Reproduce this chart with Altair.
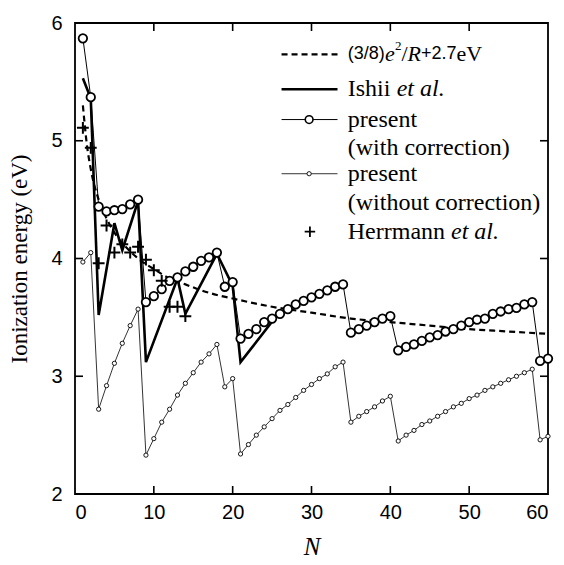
import altair as alt
import pandas as pd

# ---------------- data ----------------
N = list(range(1, 61))
with_corr = [5.87, 5.37, 4.44, 4.40, 4.41, 4.42, 4.46, 4.50,
             3.63, 3.68, 3.74, 3.81, 3.84, 3.89, 3.93, 3.98, 4.01, 4.05,
             3.76, 3.80,
             3.32, 3.36, 3.40, 3.46, 3.49, 3.53, 3.57, 3.61, 3.64, 3.67, 3.70, 3.73, 3.76, 3.78,
             3.37, 3.40, 3.43, 3.46, 3.49, 3.51,
             3.22, 3.25, 3.27, 3.30, 3.33, 3.35, 3.38, 3.40, 3.43, 3.46, 3.48, 3.49,
             3.53, 3.55, 3.57, 3.58, 3.61, 3.63,
             3.13, 3.15]
without_corr = [3.97, 4.05, 2.72, 2.92, 3.11, 3.28, 3.43, 3.57,
                2.33, 2.47, 2.61, 2.72, 2.84, 2.94, 3.03, 3.12, 3.19, 3.27,
                2.91, 2.98,
                2.34, 2.42, 2.50, 2.57, 2.64, 2.71, 2.76, 2.82, 2.88, 2.93, 2.98, 3.02, 3.08, 3.12,
                2.61, 2.66, 2.70, 2.74, 2.79, 2.83,
                2.45, 2.50, 2.54, 2.59, 2.62, 2.66, 2.70, 2.74, 2.77, 2.81, 2.84, 2.88,
                2.91, 2.94, 2.97, 3.00, 3.03, 3.06,
                2.46, 2.49]
ishii_N = [1, 2, 3, 5, 6, 8, 9, 13, 14, 18, 20, 21, 26]
ishii_E = [5.53, 5.36, 3.52, 4.30, 4.07, 4.49, 3.12, 3.83, 3.53, 4.04, 3.77, 3.12, 3.55]
herr_N = [1, 2, 3, 4, 5, 6, 7, 8, 9, 10, 11, 12, 13, 14]
herr_E = [5.11, 4.94, 3.96, 4.28, 4.05, 4.12, 4.05, 4.10, 3.99, 3.90, 3.81, 3.59, 3.59, 3.51]
fit_N = [1, 1.5, 2, 3, 4, 5, 6, 7, 8, 10, 12, 14, 16, 18, 20, 25, 30, 35, 40, 45, 50, 55, 60]
fit_E = [5.30, 4.97, 4.76, 4.50, 4.34, 4.22, 4.13, 4.06, 4.00, 3.91, 3.83, 3.78, 3.73,
         3.69, 3.66, 3.59, 3.54, 3.49, 3.46, 3.43, 3.40, 3.38, 3.36]
x_ticks = [0, 10, 20, 30, 40, 50, 60]
y_ticks = [2, 3, 4, 5, 6]

# ---------------- layout ----------------
W, H = 473, 471
SERIF = "Liberation Serif"
SANS = "Liberation Sans"
XMIN, XMAX, YMIN, YMAX = 0, 60, 2, 6

xs = alt.Scale(domain=[XMIN, XMAX], nice=False, zero=False)
ys = alt.Scale(domain=[YMIN, YMAX], nice=False, zero=False)
X = alt.X("N:Q", scale=xs,
          axis=alt.Axis(values=x_ticks, format="d", title="N", domain=False, ticks=False, grid=False,
                        labelFont=SANS, labelFontSize=20, labelPadding=8, labelColor="black",
                        titleFont=SERIF, titleFontStyle="italic", titleFontWeight="normal",
                        titleFontSize=25, titlePadding=12, titleColor="black"))
Y = alt.Y("E:Q", scale=ys,
          axis=alt.Axis(values=y_ticks, format="d", title="Ionization energy (eV)", domain=False,
                        ticks=False, grid=False, labelFont=SANS, labelFontSize=20, labelPadding=13,
                        labelColor="black", titleFont=SERIF, titleFontWeight="normal",
                        titleFontSize=23, titlePadding=19, titleColor="black"))

df_c = pd.DataFrame({"N": N, "E": with_corr})
df_u = pd.DataFrame({"N": N, "E": without_corr})
df_i = pd.DataFrame({"N": ishii_N, "E": ishii_E})
df_h = pd.DataFrame({"N": herr_N, "E": herr_E})
df_f = pd.DataFrame({"N": fit_N, "E": fit_E})

CROSS = "M-1,0H1M0,-1V1"

layers = []
# without correction
layers.append(alt.Chart(df_u).mark_line(color="black", strokeWidth=0.8).encode(x=X, y=Y))
layers.append(alt.Chart(df_u).mark_point(shape="circle", size=18, filled=True, fill="white",
                                         stroke="black", strokeWidth=0.9, opacity=1).encode(x=X, y=Y))
# fit curve
layers.append(alt.Chart(df_f).mark_line(color="black", strokeWidth=2.2, strokeDash=[6, 4],
                                        interpolate="monotone").encode(x=X, y=Y))
# Ishii
layers.append(alt.Chart(df_i).mark_line(color="black", strokeWidth=2.6).encode(x=X, y=Y))
# with correction
layers.append(alt.Chart(df_c).mark_line(color="black", strokeWidth=1).encode(x=X, y=Y))
layers.append(alt.Chart(df_c).mark_point(shape="circle", size=72, filled=True, fill="white",
                                         stroke="black", strokeWidth=1.8, opacity=1).encode(x=X, y=Y))
# Herrmann
layers.append(alt.Chart(df_h).mark_point(shape=CROSS, size=140, filled=False, stroke="black",
                                         strokeWidth=2, opacity=1).encode(x=X, y=Y))

# ---------------- inward ticks on all four sides ----------------
TY = 8 * (YMAX - YMIN) / H
TXL = 8 * (XMAX - XMIN) / W
vt = pd.DataFrame(
    [{"N": v, "E": YMIN, "E2": YMIN + TY} for v in x_ticks[1:-1]]
    + [{"N": v, "E": YMAX - TY, "E2": YMAX} for v in x_ticks[1:-1]])
ht = pd.DataFrame(
    [{"E": v, "N": XMIN, "N2": XMIN + TXL} for v in y_ticks[1:-1]]
    + [{"E": v, "N": XMAX - TXL, "N2": XMAX} for v in y_ticks[1:-1]])
layers.append(alt.Chart(vt).mark_rule(color="black", strokeWidth=1.6).encode(x=X, y=Y, y2="E2:Q"))
layers.append(alt.Chart(ht).mark_rule(color="black", strokeWidth=1.6).encode(y=Y, x=X, x2="N2:Q"))

# ---------------- legend (in data units) ----------------
LX0, LX1, LXM, TX = 26.2, 33.3, 29.7, 34.6
R1, R2, R3, R3b, R4, R4b, R5 = 5.733, 5.437, 5.18, 4.938, 4.72, 4.473, 4.228

leg_fit = pd.DataFrame({"N": [LX0, LX1], "E": [R1, R1]})
leg_ish = pd.DataFrame({"N": [LX0, LX1], "E": [R2, R2]})
leg_c = pd.DataFrame({"N": [LX0, LX1], "E": [R3, R3]})
leg_u = pd.DataFrame({"N": [LX0, LX1], "E": [R4, R4]})
layers.append(alt.Chart(leg_fit).mark_line(color="black", strokeWidth=2.2, strokeDash=[6, 4]).encode(x=X, y=Y))
layers.append(alt.Chart(leg_ish).mark_line(color="black", strokeWidth=2.6).encode(x=X, y=Y))
layers.append(alt.Chart(leg_c).mark_line(color="black", strokeWidth=1).encode(x=X, y=Y))
layers.append(alt.Chart(pd.DataFrame({"N": [LXM], "E": [R3]})).mark_point(
    shape="circle", size=60, filled=True, fill="white", stroke="black", strokeWidth=1.6, opacity=1).encode(x=X, y=Y))
layers.append(alt.Chart(leg_u).mark_line(color="black", strokeWidth=0.8).encode(x=X, y=Y))
layers.append(alt.Chart(pd.DataFrame({"N": [LXM], "E": [R4]})).mark_point(
    shape="circle", size=18, filled=True, fill="white", stroke="black", strokeWidth=0.9, opacity=1).encode(x=X, y=Y))
layers.append(alt.Chart(pd.DataFrame({"N": [29.8], "E": [R5]})).mark_point(
    shape=CROSS, size=110, filled=False, stroke="black", strokeWidth=1.8, opacity=1).encode(x=X, y=Y))

serif_txt = pd.DataFrame({
    "N": [TX, TX, TX, TX, TX, TX],
    "E": [R2, R3, R3b, R4, R4b, R5],
    "t": ["Ishii", "present", "(with correction)", "present", "(without correction)", "Herrmann"]})
ital_txt = pd.DataFrame({
    "N": [40.8, 47.7],
    "E": [R2, R5],
    "t": ["et al.", "et al."]})
# formula pieces: (3/8) e ² / R +2.7 eV
f_serif = pd.DataFrame({"N": [41.42, 48.40], "E": [R1, R1], "t": ["/", "eV"]})
f_ital = pd.DataFrame({"N": [39.33, 42.19], "E": [R1, R1], "t": ["e", "R"]})
f_sans = pd.DataFrame({"N": [TX, 43.89], "E": [R1, R1], "t": ["(3/8)", "+2.7"]})
f_sup = pd.DataFrame({"N": [40.59], "E": [R1], "t": ["2"]})

layers.append(alt.Chart(serif_txt).mark_text(font=SERIF, fontSize=24, align="left", baseline="middle",
                                             color="black").encode(x=X, y=Y, text="t:N"))
layers.append(alt.Chart(ital_txt).mark_text(font=SERIF, fontSize=24, fontStyle="italic", align="left",
                                            baseline="middle", color="black").encode(x=X, y=Y, text="t:N"))
layers.append(alt.Chart(f_serif).mark_text(font=SERIF, fontSize=22, align="left", baseline="middle",
                                           color="black").encode(x=X, y=Y, text="t:N"))
layers.append(alt.Chart(f_ital).mark_text(font=SERIF, fontSize=22, fontStyle="italic", align="left",
                                          baseline="middle", color="black").encode(x=X, y=Y, text="t:N"))
layers.append(alt.Chart(f_sans).mark_text(font=SANS, fontSize=18, align="left", baseline="middle",
                                          color="black").encode(x=X, y=Y, text="t:N"))
layers.append(alt.Chart(f_sup).mark_text(font=SERIF, fontSize=13, align="left", baseline="middle",
                                         dy=-8, color="black").encode(x=X, y=Y, text="t:N"))

chart = alt.layer(*layers).properties(
    width=W, height=H,
    padding={"left": 75, "top": 23, "right": 16, "bottom": 71},
    autosize=alt.AutoSizeParams(type="none"),
).configure_view(stroke="black", strokeWidth=1.8)

chart.save("out.html", embed_options={"renderer": "svg", "actions": False})
